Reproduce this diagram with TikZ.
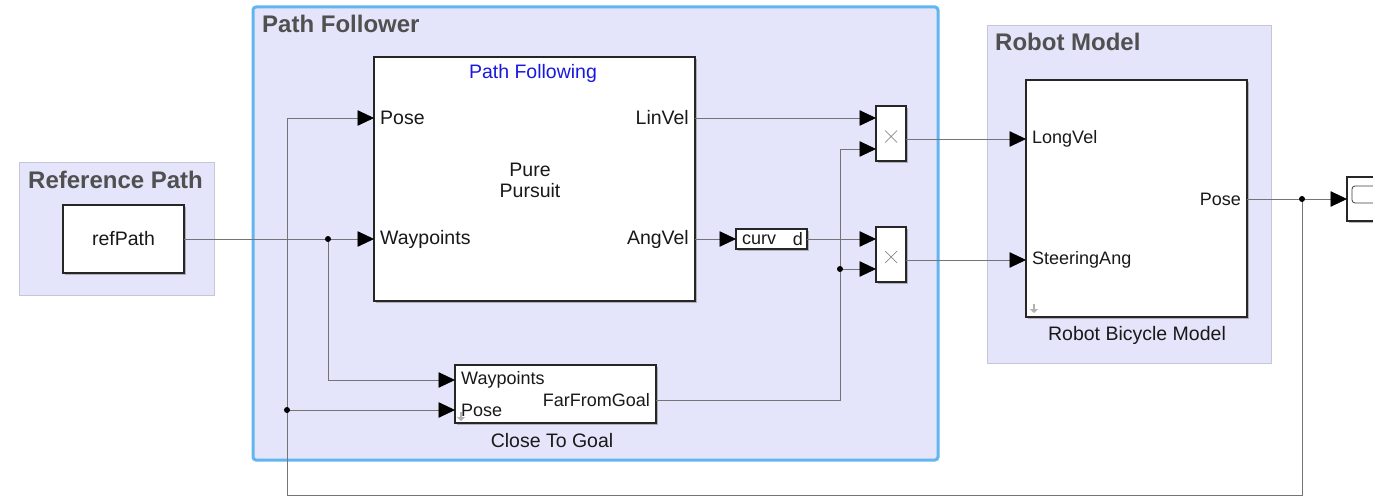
\documentclass[tikz,border=0pt]{standalone}
\usepackage{fontspec}
\setmainfont{Liberation Sans}
\usetikzlibrary{arrows.meta,shadows}
\definecolor{areafill}{HTML}{E4E4FA}
\definecolor{areaedge}{HTML}{C6C6D8}
\definecolor{pfedge}{HTML}{62B6F0}
\definecolor{wirecol}{HTML}{747474}
\definecolor{titlegray}{HTML}{505050}
\definecolor{pfblue}{HTML}{1818E0}
\begin{document}
\begin{tikzpicture}[x=1pt,y=-1pt,
  areabox/.style={draw=areaedge, fill=areafill, line width=1pt},
  blk/.style={draw=black!85, fill=white, line width=1.1pt, inner sep=0pt, outer sep=0pt,
    drop shadow={shadow xshift=1.6pt, shadow yshift=-1.6pt, fill=black!45, opacity=0.6}},
  portlbl/.style={font=\fontsize{18}{20}\selectfont, inner sep=0pt, text=black!90},
  bigport/.style={font=\fontsize{19.5}{22}\selectfont, inner sep=0pt, text=black!90},
  blklbl/.style={font=\fontsize{19.5}{22}\selectfont, inner sep=0pt, text=black!90},
  areatitle/.style={font=\bfseries\fontsize{24}{26}\selectfont, inner sep=0pt, text=titlegray, anchor=west},
  wire/.style={draw=wirecol, line width=0.8pt},
  arr/.style={wire, -{Triangle[length=16.5pt,width=15.5pt,color=black]}},
  dotb/.style={fill=black},
  icon/.style={black!30, line width=2pt, -{Triangle[length=4pt,width=8pt]}}
]
\useasboundingbox (0,0) rectangle (1373,497);

% ---------- areas ----------
\draw[areabox] (19,163) rectangle (214,295);
\node[areatitle] (tref) at (28,180) {Reference Path};
\draw[fill=areafill, draw=pfedge, line width=3pt, rounded corners=3pt] (253,7) rectangle (938,460);
\node[areatitle] (tpf) at (262,24) {Path Follower};
\draw[areabox] (987,26) rectangle (1271,363);
\node[areatitle] (trm) at (995,42) {Robot Model};

% ---------- blocks ----------
\node[blk, minimum width=121pt, minimum height=68pt] (ref) at (123.5,239) {};
\node[blklbl] (reflbl) at (123.5,239) {refPath};

\node[blk, minimum width=321pt, minimum height=244pt] (pf) at (534.5,179) {};
\node[font=\fontsize{19.5}{22}\selectfont, text=pfblue, inner sep=0pt] (pftitle) at (533,73) {Path Following};
\node[blklbl, align=center, font=\fontsize{19.5}{21}\selectfont] (pfcenter) at (530,180) {Pure\\Pursuit};
\node[bigport, anchor=west] (pfposel) at (380,118) {Pose};
\node[bigport, anchor=west] (pfwpl) at (380,239) {Waypoints};
\node[bigport, anchor=east] (pflinl) at (689,118) {LinVel};
\node[bigport, anchor=east] (pfangl) at (689,239) {AngVel};

\node[blk, minimum width=30pt, minimum height=55pt] (m1) at (891,133.5) {};
\node[blk, minimum width=30pt, minimum height=55pt] (m2) at (891,254.5) {};
\draw[black!45, line width=0.7pt] (885,130.5) -- (897,142.5) (885,142.5) -- (897,130.5);
\draw[black!45, line width=0.7pt] (885,251) -- (897,263) (885,263) -- (897,251);

\node[blk, minimum width=71pt, minimum height=20pt] (curv) at (771.5,239) {};
\node[portlbl, anchor=west] (curvl) at (742,239.5) {curv};
\node[portlbl, anchor=east] (curvr) at (803,239.5) {d};

\node[blk, minimum width=201pt, minimum height=58pt] (ctg) at (555.5,394) {};
\node[portlbl, anchor=west] (ctgwpl) at (461,380) {Waypoints};
\node[portlbl, anchor=west] (ctgposel) at (461,410) {Pose};
\node[portlbl, anchor=east] (ctgffl) at (650,400) {FarFromGoal};
\node[blklbl] (ctglbl) at (552,441) {Close To Goal};
\draw[icon] (461,412) -- (461,421);

\node[blk, minimum width=221pt, minimum height=237pt] (rb) at (1136.5,198.5) {};
\node[portlbl, anchor=west] (rblongl) at (1032,139) {LongVel};
\node[portlbl, anchor=west] (rbsteerl) at (1032,260) {SteeringAng};
\node[portlbl, anchor=east] (rbposel) at (1241,199) {Pose};
\node[blklbl] (rblbl) at (1137,335) {Robot Bicycle Model};
\draw[icon] (1034,304) -- (1034,313);

\begin{scope}
  \clip (1340,170) rectangle (1373,230);
  \node[blk, minimum width=48pt, minimum height=44pt, anchor=north west] (scope) at (1347,177) {};
  \draw[black!75, line width=0.8pt, rounded corners=3pt] (1352,186) rectangle (1400,203);
\end{scope}

% ---------- ports (coordinates) ----------
\coordinate (refout) at (184,239);
\coordinate (pfPose) at (374,118);
\coordinate (pfWp) at (374,239);
\coordinate (pfLin) at (695,118);
\coordinate (pfAng) at (695,239);
\coordinate (curvIn) at (736,239);
\coordinate (curvOut) at (807,239);
\coordinate (m1a) at (876,118);
\coordinate (m1b) at (876,149);
\coordinate (m1o) at (906,139);
\coordinate (m2a) at (876,239);
\coordinate (m2b) at (876,269);
\coordinate (m2o) at (906,260);
\coordinate (ctgWp) at (455,380);
\coordinate (ctgPose) at (455,410);
\coordinate (ctgOut) at (656,400);
\coordinate (rbLong) at (1026,139);
\coordinate (rbSteer) at (1026,260);
\coordinate (rbPose) at (1247,199);
\coordinate (scopeIn) at (1347,199);
\coordinate (dotA) at (328,239);
\coordinate (dotP) at (287,410);
\coordinate (dotF) at (840,269);
\coordinate (dotR) at (1302,199);
\coordinate (fbc) at (287,495);
\coordinate (ffgx) at (840,400);

% ---------- wires ----------
\draw[arr] (refout) -- (pfWp);
\draw[arr] (dotA) |- (ctgWp);
\draw[arr] (dotR) |- (fbc) |- (pfPose);
\draw[arr] (dotP) -- (ctgPose);
\draw[arr] (pfLin) -- (m1a);
\draw[arr] (pfAng) -- (curvIn);
\draw[arr] (curvOut) -- (m2a);
\draw[arr] (ctgOut) -- (ffgx) |- (m1b);
\draw[arr] (dotF) -- (m2b);
\draw[arr] (m1o) -- (rbLong);
\draw[arr] (m2o) -- (rbSteer);
\draw[arr] (rbPose) -- (scopeIn);

\fill[dotb] (dotA) circle[radius=3pt];
\fill[dotb] (dotP) circle[radius=3pt];
\fill[dotb] (dotF) circle[radius=3pt];
\fill[dotb] (dotR) circle[radius=3pt];
\end{tikzpicture}
\end{document}
